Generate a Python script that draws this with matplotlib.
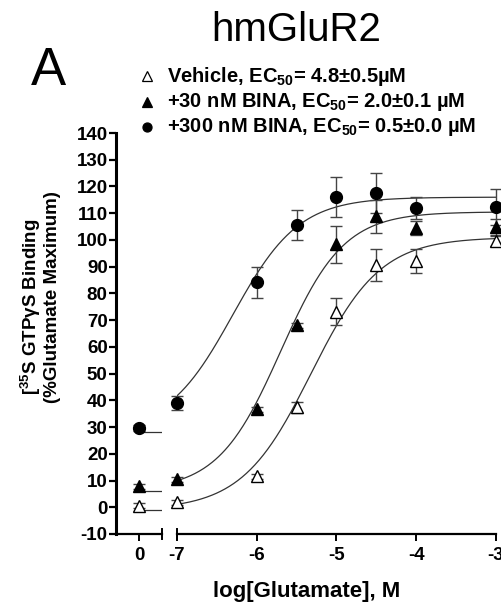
import matplotlib
matplotlib.use('Agg')
import matplotlib.pyplot as plt
from matplotlib.lines import Line2D
import numpy as np

plt.rcParams['font.family'] = ['Liberation Sans', 'DejaVu Sans']
plt.rcParams['mathtext.fontset'] = 'custom'
plt.rcParams['mathtext.rm'] = 'Liberation Sans:bold'
plt.rcParams['mathtext.bf'] = 'Liberation Sans:bold'
plt.rcParams['mathtext.it'] = 'Liberation Sans:bold'

# data
log_glu = [-7, -6, -5.5, -5, -4.5, -4, -3]

veh_basal, veh_basal_err = 0.6, 1.0
veh = [1.9, 11.6, 37.4, 73.1, 90.6, 92.1, 99.6]
veh_err = [1.0, 1.0, 2.0, 5.0, 6.0, 4.5, 2.0]

b30_basal, b30_basal_err = 7.8, 0.8
b30 = [10.4, 36.6, 68.1, 98.3, 108.8, 104.5, 104.9]
b30_err = [1.0, 1.0, 1.0, 7.0, 6.3, 2.5, 3.0]

b300_basal, b300_basal_err = 29.6, 1.0
b300 = [39.0, 84.1, 105.7, 116.0, 117.4, 111.9, 112.3]
b300_err = [2.5, 5.8, 5.6, 7.5, 7.5, 4.2, 6.7]

# fitted curve parameters: bottom, top, logEC50, hill slope
veh_fit = (-1.0, 101.0, -5.32, 1.0)
b30_fit = (6.2, 110.5, -5.7, 1.1)
b300_fit = (28.0, 116.0, -6.3, 1.05)

legend_labels = ['Vehicle, EC$_{50}$= 4.8±0.5µM',
                 '+30 nM BINA, EC$_{50}$= 2.0±0.1 µM',
                 '+300 nM BINA, EC$_{50}$= 0.5±0.0 µM']


def hill(x, bottom, top, logec, h):
    return bottom + (top - bottom) / (1 + 10 ** ((logec - x) * h))


fig = plt.figure(figsize=(5.02, 6.07), dpi=100)
W, H = 502, 607
bot = (H - 534) / H
hgt = (534 - 133) / H
axL = fig.add_axes([116 / W, bot, 46 / W, hgt])
axR = fig.add_axes([177 / W, bot, 319 / W, hgt])

series = [
    (veh, veh_err, veh_basal, veh_basal_err, veh_fit, '^', 'white'),
    (b30, b30_err, b30_basal, b30_basal_err, b30_fit, '^', 'black'),
    (b300, b300_err, b300_basal, b300_basal_err, b300_fit, 'o', 'black'),
]

xs = np.linspace(-7, -3, 300)
for vals, errs, basal, berr, fit, mk, fc in series:
    ms = 8.5 if mk == 'o' else 8
    axR.plot(xs, hill(xs, *fit), color='#333333', lw=0.9, zorder=2)
    axR.errorbar(log_glu, vals, yerr=errs, fmt=mk, ms=ms, mfc=fc, mec='black',
                 mew=1.0, ecolor='#444444', elinewidth=1.0, capsize=4,
                 capthick=1.0, zorder=3, clip_on=False)
    axL.plot([0, 1], [fit[0], fit[0]], color='#333333', lw=0.9, zorder=2)
    axL.errorbar([0], [basal], yerr=[berr], fmt=mk, ms=ms, mfc=fc, mec='black',
                 mew=1.0, ecolor='#444444', elinewidth=1.0, capsize=4,
                 capthick=1.0, zorder=3, clip_on=False)

tick_fs = 13.5
for ax in (axL, axR):
    ax.set_ylim(-10, 140)
    ax.spines['top'].set_visible(False)
    ax.spines['right'].set_visible(False)
    ax.spines['bottom'].set_linewidth(1.6)
    ax.tick_params(axis='x', direction='out', length=5, width=1.4, pad=4)

axL.set_xlim(-1, 1)
axL.set_xticks([0])
axL.set_xticklabels(['0'], fontweight='bold', fontsize=tick_fs)
axL.set_yticks(range(-10, 141, 10))
axL.set_yticklabels([str(v) for v in range(-10, 141, 10)], fontweight='bold',
                    fontsize=tick_fs)
axL.spines['left'].set_linewidth(2.2)
axL.tick_params(axis='y', direction='out', length=5, width=1.6, pad=1)

axR.set_xlim(-7, -3)
axR.set_xticks([-7, -6, -5, -4, -3])
axR.set_xticklabels(['-7', '-6', '-5', '-4', '-3'], fontweight='bold',
                    fontsize=tick_fs)
axR.spines['left'].set_visible(False)
axR.set_yticks([])

# break marks
axL.plot([1, 1], [-0.012, 0.012], transform=axL.transAxes, color='black',
         lw=1.4, clip_on=False)
axR.plot([0, 0], [-0.012, 0.012], transform=axR.transAxes, color='black',
         lw=1.4, clip_on=False)

fig.text(307 / W, 1 - 592 / H, 'log[Glutamate], M', ha='center', va='center',
         fontsize=16, fontweight='bold')

fig.text(31 / W, 1 - 307 / H, '[$^{35}$S GTPγS Binding', rotation=90,
         ha='center', va='center', fontsize=13.5, fontweight='bold')
fig.text(53 / W, 1 - 297 / H, '(%Glutamate Maximum)', rotation=90,
         ha='center', va='center', fontsize=13.5, fontweight='bold')

fig.text(296 / W, 1 - 30 / H, 'hmGluR2', ha='center', va='center',
         fontsize=29)
fig.text(48 / W, 1 - 71 / H, 'A', ha='center', va='center', fontsize=38)

leg_y = [76, 102, 127]
leg_mk = [('^', 'white'), ('^', 'black'), ('o', 'black')]
for yy, (mk, fc), lab in zip(leg_y, leg_mk, legend_labels):
    fig.add_artist(Line2D([147 / W], [1 - yy / H], marker=mk, ms=6.5,
                          mfc=fc, mec='black', mew=0.9, ls='none',
                          transform=fig.transFigure))
    fig.text(167 / W, 1 - yy / H, lab, ha='left', va='center', fontsize=14.5,
             fontweight='bold')

fig.savefig('out.png', dpi=100)
